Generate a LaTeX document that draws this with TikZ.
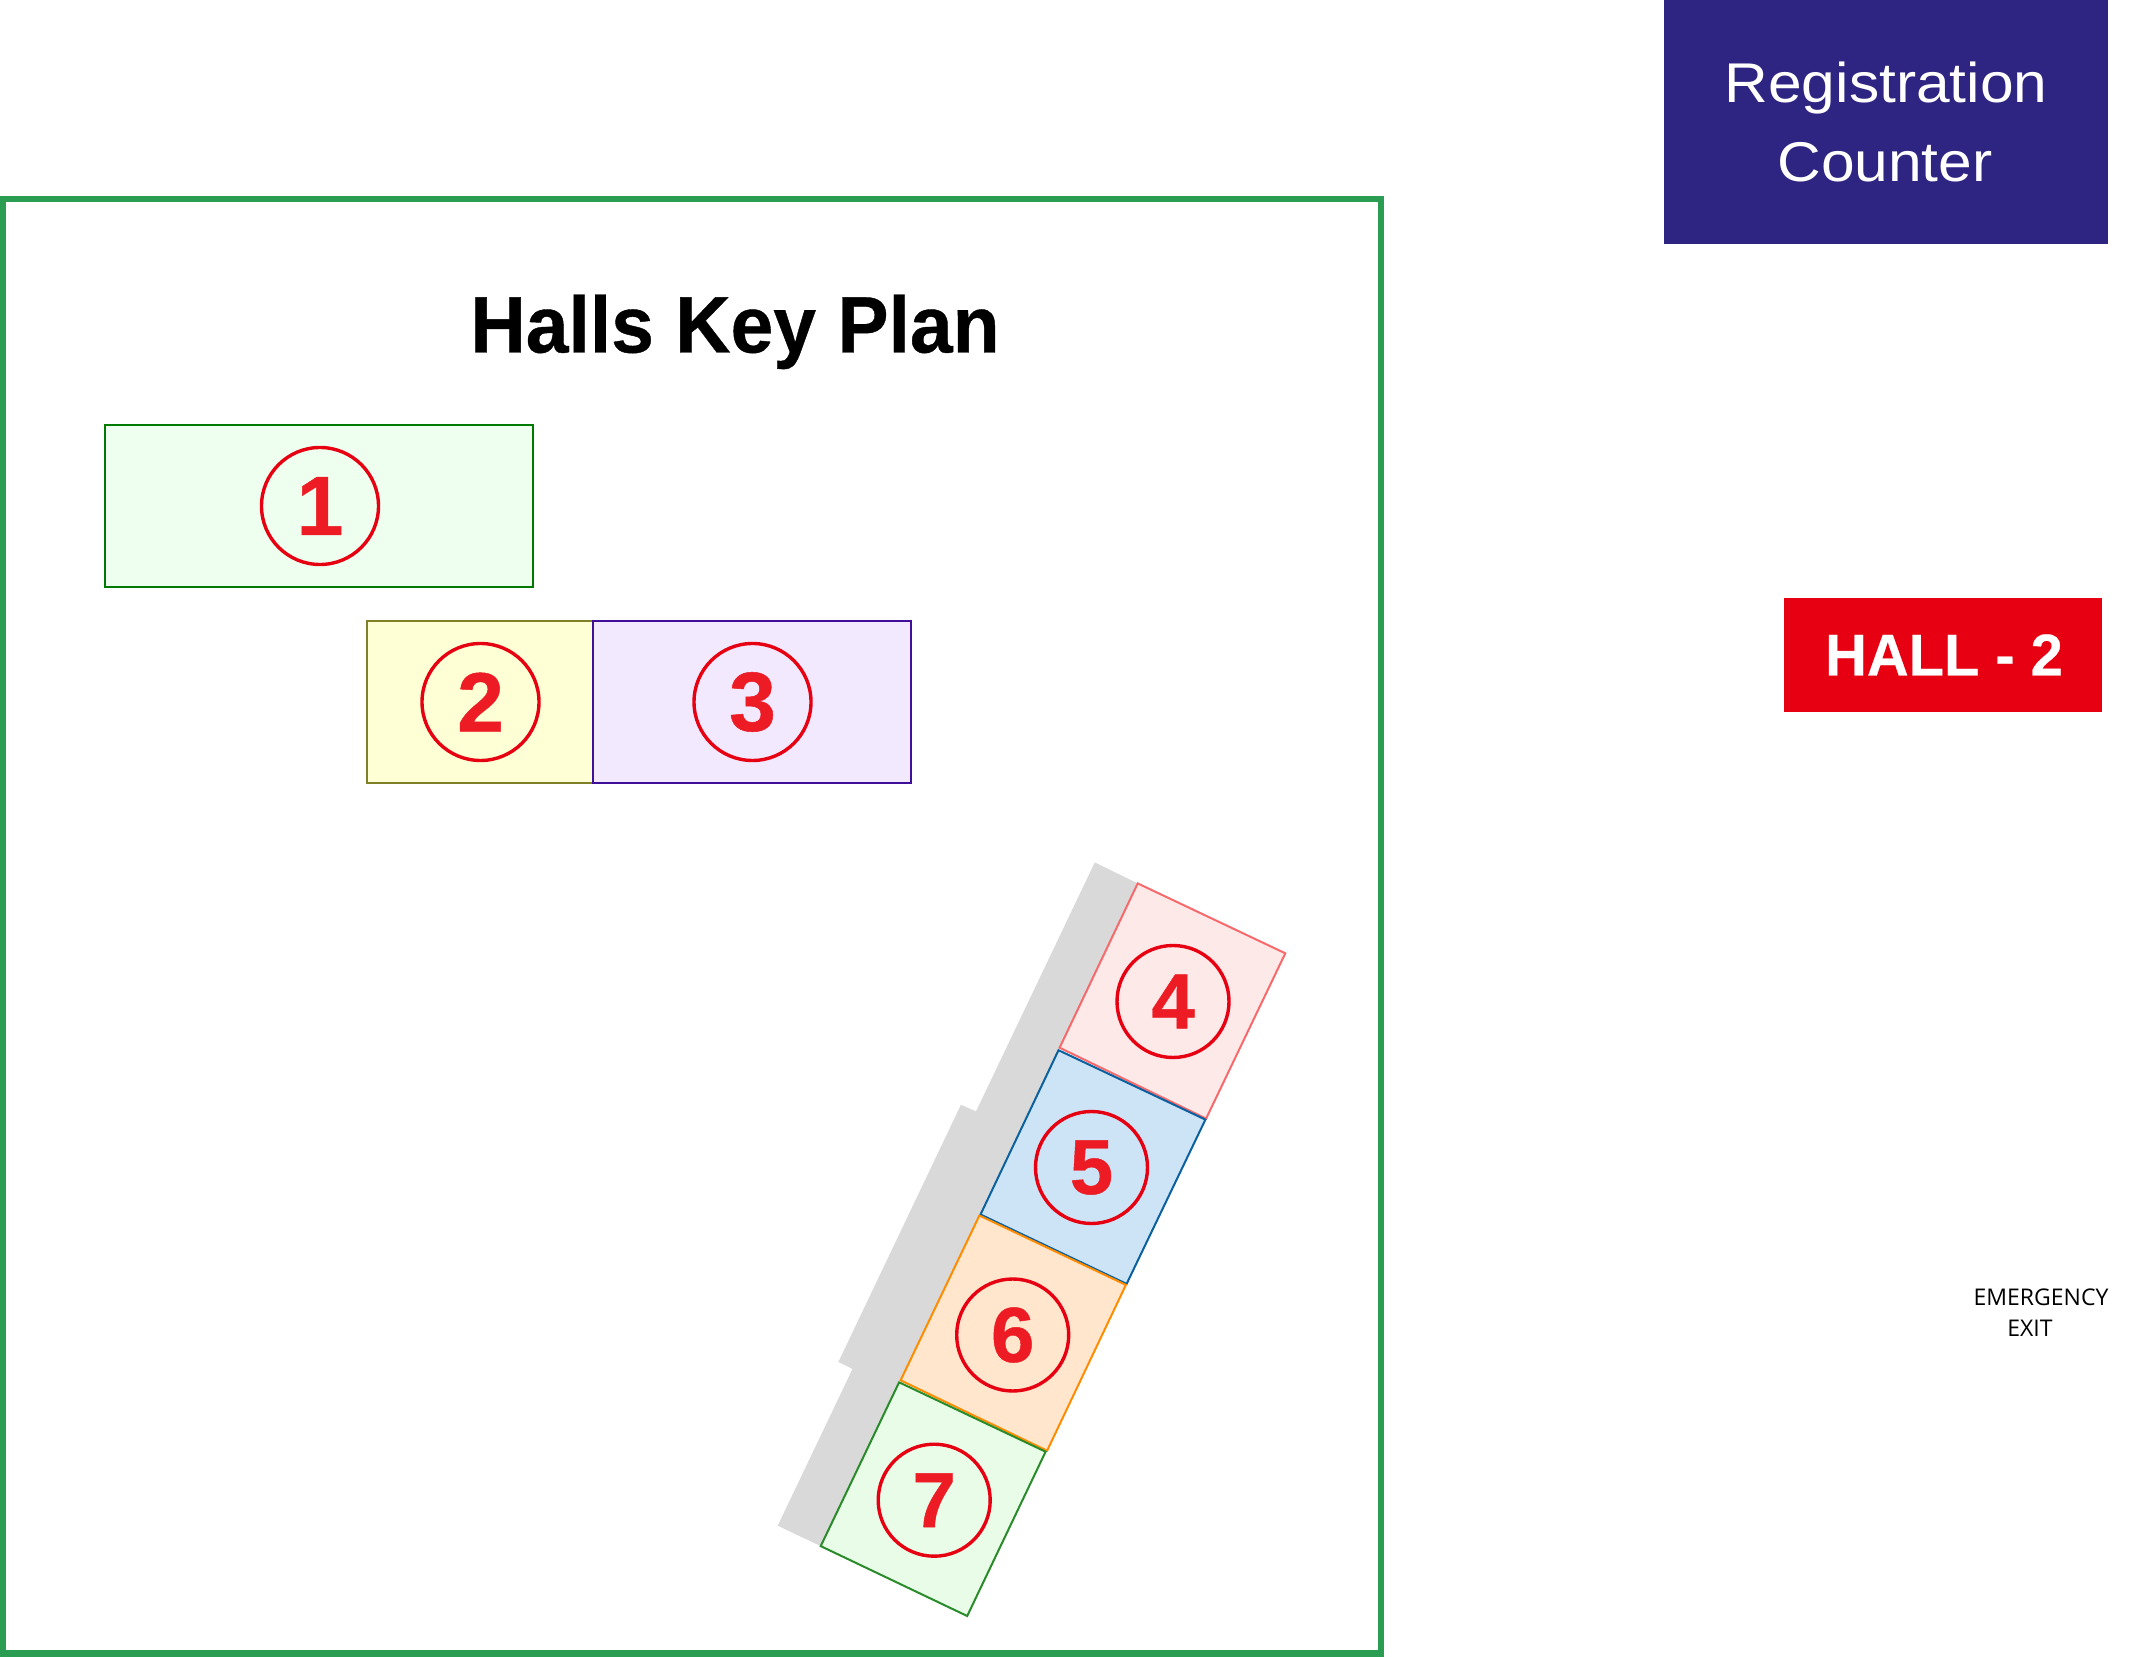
\documentclass[tikz,border=0pt]{standalone}
\usepackage{fontspec}
\setmainfont{Liberation Sans}
\newfontfamily\regfont[FakeStretch=1.08]{Liberation Sans}
\newfontfamily\titlefont[FakeStretch=0.96,FakeBold=0.5]{Liberation Sans Bold}
\newfontfamily\numfont[FakeBold=0.6]{Liberation Sans Bold}
\newfontfamily\hallfont[FakeStretch=0.98,FakeBold=0.4]{Liberation Sans Bold}
\newfontfamily\exitfont{Open Sans}
\definecolor{framegreen}{HTML}{2A9D52}
\definecolor{numred}{HTML}{ED1C24}
\definecolor{ringred}{HTML}{E60012}
\definecolor{navy}{HTML}{2E2482}
\definecolor{wallgray}{HTML}{D9D9D9}
\tikzset{
  hall/.style={line width=1pt,line join=miter},
  ringA/.style={circle,draw=ringred,line width=1.7pt,minimum size=58.5pt,inner sep=0pt,text=numred,font=\numfont\fontsize{42}{42}\selectfont},
  ringB/.style={circle,draw=ringred,line width=1.7pt,minimum size=56pt,inner sep=0pt,text=numred,font=\numfont\fontsize{39}{39}\selectfont},
}
\begin{document}
\begin{tikzpicture}[x=0.5pt,y=-0.5pt]
\useasboundingbox (0,0) rectangle (2142,1657);
% frame
\draw[framegreen,line width=3.2pt] (3,199) rectangle (1381,1653.5);
\node[anchor=base,font=\titlefont\fontsize{40}{40}\selectfont,inner sep=0pt] (title) at (735,352.5) {Halls Key Plan};
% straight halls
\draw[hall,draw={rgb,255:red,0;green,122;blue,0},fill={rgb,255:red,238;green,255;blue,239}] (105,425) rectangle (533,587);
\draw[hall,draw={rgb,255:red,128;green,128;blue,40},fill={rgb,255:red,255;green,255;blue,213}] (367,621) rectangle (593,783);
\draw[hall,draw={rgb,255:red,63;green,15;blue,154},fill={rgb,255:red,242;green,233;blue,254}] (593,621) rectangle (911,783);
% wall
\fill[wallgray] (1094.8,862.4) -- (1137.7,883.4) -- (820.7,1546.1) -- (777.7,1525.7) -- (852.5,1369) -- (838.4,1361.9) -- (960.9,1104.8) -- (976,1111.4) -- cycle;
% rotated halls
\draw[hall,draw={rgb,255:red,248;green,105;blue,107},fill={rgb,255:red,254;green,233;blue,233}] (1137.7,883.4) -- (1285.3,953.3) -- (1206.1,1118.6) -- (1059.6,1047.7) -- cycle;
\draw[hall,draw={rgb,255:red,11;green,96;blue,159},fill={rgb,255:red,204;green,228;blue,245}] (1058.5,1050.2) -- (1205.4,1119.6) -- (1126.6,1283.9) -- (980.5,1214.5) -- cycle;
\draw[hall,draw={rgb,255:red,255;green,140;blue,0},fill={rgb,255:red,255;green,230;blue,204}] (979.4,1215.5) -- (1125.9,1284.9) -- (1047.1,1450.7) -- (900.6,1380.3) -- cycle;
\draw[hall,draw={rgb,255:red,42;green,139;blue,42},fill={rgb,255:red,232;green,252;blue,232}] (899.1,1382.3) -- (1045.6,1451.7) -- (967.2,1616) -- (820.7,1546.1) -- cycle;
% number rings
\node[ringA] (n1) at (320,506) {1};
\node[ringA] (n2) at (480.5,702) {2};
\node[ringA] (n3) at (752.5,702) {3};
\node[ringB] (n4) at (1173,1001.5) {4};
\node[ringB] (n5) at (1091.5,1167.5) {5};
\node[ringB] (n6) at (1012.7,1335) {6};
\node[ringB] (n7) at (934.2,1500.2) {7};
% registration counter
\fill[navy] (1664,0) rectangle (2108,243.7);
\node[anchor=base,text=white,inner sep=0pt,font=\regfont\fontsize{28}{28}\selectfont] (reg1) at (1886,102.5) {Registration};
\node[anchor=base,text=white,inner sep=0pt,font=\regfont\fontsize{28}{28}\selectfont] (reg2) at (1885,182) {Counter};
% hall 2
\fill[ringred] (1784,598) rectangle (2102,712);
\node[anchor=base,text=white,inner sep=0pt,font=\hallfont\fontsize{29.5}{29.5}\selectfont] (hall) at (1944,675.5) {HALL - 2};
% exit
\node[anchor=base,inner sep=0pt,font=\exitfont\fontsize{11.5}{11.5}\selectfont] (ex1) at (2041,1305) {EMERGENCY};
\node[anchor=base,inner sep=0pt,font=\exitfont\fontsize{11.5}{11.5}\selectfont] (ex2) at (2030,1336) {EXIT};
\end{tikzpicture}
\end{document}
